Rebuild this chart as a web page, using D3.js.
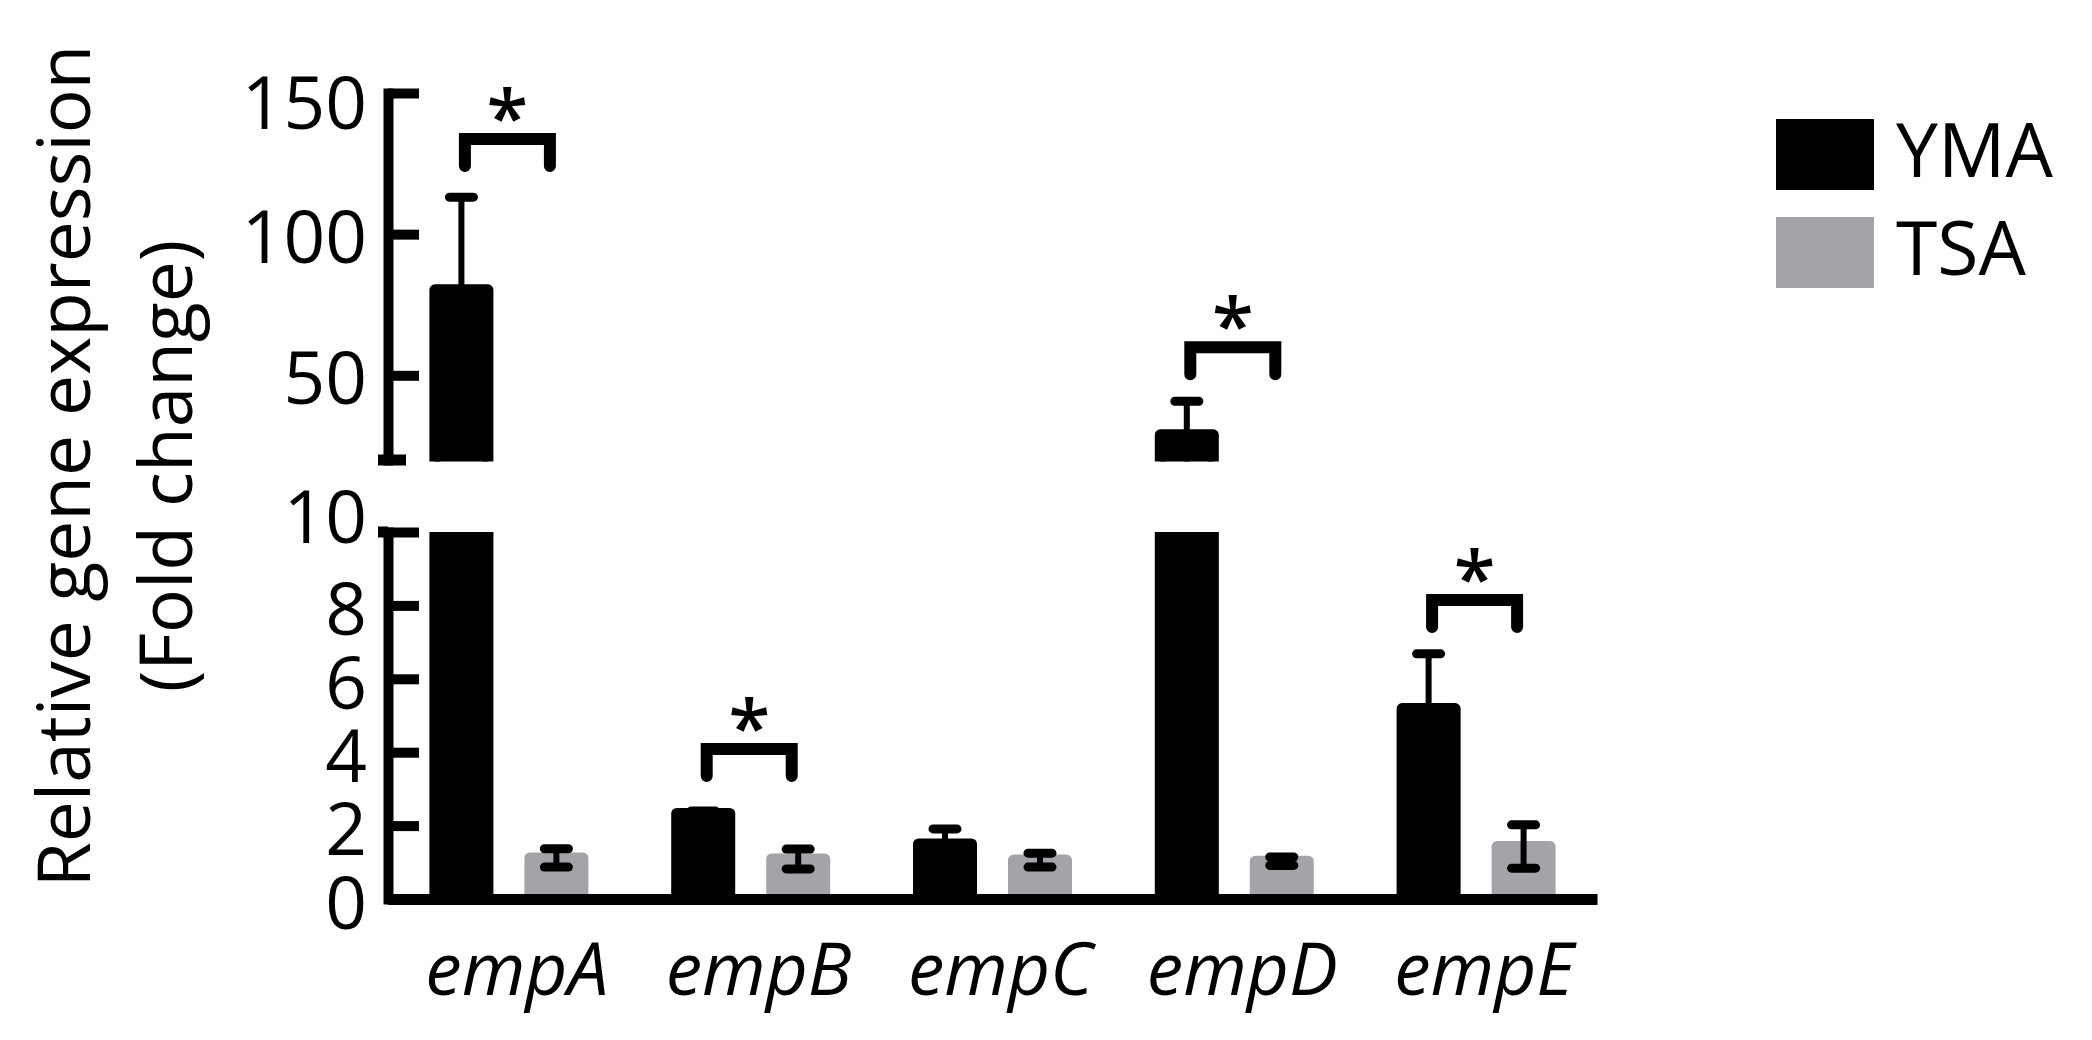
<!DOCTYPE html>
<html>
<head>
<meta charset="utf-8">
<script src="https://cdn.jsdelivr.net/npm/d3@7"></script>
<style>
  html, body { margin: 0; padding: 0; background: #fff; }
  svg { display: block; }
  text { font-family: "Open Sans", "Noto Sans", sans-serif; fill: #000; }
</style>
</head>
<body>
<svg id="chart" width="2092" height="1040"></svg>
<script>
// ---------------- data ----------------
const genes = ["empA", "empB", "empC", "empD", "empE"];
const series = ["YMA", "TSA"];
const ymaMean = [80.3, 2.33, 1.50, 28.9, 5.19];
const ymaErr  = [32.8, 0.07, 0.41, 11.9, 1.49];
const tsaMean = [1.12, 1.09, 1.06, 1.03, 1.43];
const tsaErr  = [0.25, 0.27, 0.19, 0.115, 0.59];
const sigLevel = [133.7, 4.09, null, 59.9, 8.15];   // bracket heights (data units)
const sigLabel = ["*", "*", null, "*", "*"];
const upperTicks = [50, 100, 150];
const lowerTicks = [0, 2, 4, 6, 8, 10];
const upperDomain = [20, 150];
const lowerDomain = [0, 10];
const colors = ["#000000", "#a4a4a8"];
const titleLines = ["Relative gene expression", "(Fold change)"];

// ---------------- layout ----------------
const svg = d3.select("#chart");
const axisX = 388;
const x = d3.scaleBand().domain(genes).range([axisX, 1597]).paddingInner(0).paddingOuter(0);
const xs = d3.scaleBand().domain(series).range([0, x.bandwidth()]).paddingInner(0.326).paddingOuter(0.436);
const yU = d3.scaleLinear().domain(upperDomain).range([460, 93]);
const yL = d3.scaleLinear().domain(lowerDomain).range([899, 532]);
const color = d3.scaleOrdinal().domain(series).range(colors);

const data = genes.flatMap((g, i) => [
  { gene: g, s: "YMA", v: ymaMean[i], e: ymaErr[i] },
  { gene: g, s: "TSA", v: tsaMean[i], e: tsaErr[i] }
]);
const cx = d => x(d.gene) + xs(d.s) + xs.bandwidth() / 2;
const barStroke = 11;
const barHalf = xs.bandwidth() / 2 - barStroke / 2;

// clip paths
const defs = svg.append("defs");
defs.append("clipPath").attr("id", "clipU").append("rect")
  .attr("x", 0).attr("y", 0).attr("width", 2092).attr("height", yU(upperDomain[0]) + 1.5);
defs.append("clipPath").attr("id", "clipL").append("rect")
  .attr("x", 0).attr("y", yL(lowerDomain[1])).attr("width", 2092)
  .attr("height", yL(0) - yL(lowerDomain[1]) + 6);

function drawSegment(y, clipId, dom) {
  const g = svg.append("g").attr("clip-path", `url(#${clipId})`);
  const shown = data.filter(d => d.v > dom[0]);
  g.selectAll("rect.bar").data(shown).join("rect")
    .attr("class", "bar")
    .attr("x", d => cx(d) - barHalf)
    .attr("width", barHalf * 2)
    .attr("y", d => y(Math.min(d.v, dom[1] + 5)))
    .attr("height", d => y(dom[0]) + 20 - y(Math.min(d.v, dom[1] + 5)))
    .attr("fill", d => color(d.s))
    .attr("stroke", d => color(d.s))
    .attr("stroke-width", barStroke)
    .attr("stroke-linejoin", "round");
  const eb = shown.filter(d => d.v + d.e <= dom[1] + 0.0001 && d.v + d.e > dom[0]);
  const eg = g.selectAll("g.err").data(eb).join("g").attr("class", "err");
  eg.append("line")
    .attr("x1", cx).attr("x2", cx)
    .attr("y1", d => y(d.v - d.e)).attr("y2", d => y(d.v + d.e))
    .attr("stroke", "#000").attr("stroke-width", 6);
  [1, -1].forEach(sign => {
    eg.append("line")
      .attr("x1", d => cx(d) - 12).attr("x2", d => cx(d) + 12)
      .attr("y1", d => y(d.v + sign * d.e)).attr("y2", d => y(d.v + sign * d.e))
      .attr("stroke", "#000").attr("stroke-width", 9).attr("stroke-linecap", "round");
  });
}
drawSegment(yU, "clipU", upperDomain);
drawSegment(yL, "clipL", lowerDomain);

// ---------------- axes ----------------
function yAxis(y, ticks, labelOffset) {
  const g = svg.append("g").attr("transform", `translate(${axisX},0)`)
    .call(d3.axisLeft(y).tickValues(ticks).tickSizeInner(-31).tickSizeOuter(0).tickPadding(21));
  g.select(".domain").attr("stroke", "#000").attr("stroke-width", 10).attr("stroke-linecap", "square");
  g.selectAll(".tick line").attr("stroke", "#000").attr("stroke-width", 10);
  g.selectAll(".tick text")
    .style("font-family", '"Open Sans", sans-serif')
    .attr("font-size", 73).attr("fill", "#000")
    .attr("dy", d => (0.32 + labelOffset(d) / 73) + "em");
  return g;
}
yAxis(yU, upperTicks, d => (d === upperDomain[1] ? 12 : 5));
yAxis(yL, lowerTicks, d => (d === lowerDomain[1] ? -13 : 6));

// segment end caps
svg.append("line")
  .attr("x1", axisX - 10).attr("x2", axisX + 18)
  .attr("y1", yU(upperDomain[0])).attr("y2", yU(upperDomain[0]))
  .attr("stroke", "#000").attr("stroke-width", 11);
svg.append("line")
  .attr("x1", axisX - 10).attr("x2", axisX)
  .attr("y1", yL(lowerDomain[1])).attr("y2", yL(lowerDomain[1]))
  .attr("stroke", "#000").attr("stroke-width", 11);

// x axis
const xg = svg.append("g").attr("transform", `translate(0,${yL(0)})`)
  .call(d3.axisBottom(x).tickSize(0).tickSizeOuter(0));
xg.select(".domain").attr("stroke", "#000").attr("stroke-width", 11);
xg.selectAll(".tick text")
  .style("font-family", '"Open Sans", sans-serif')
  .attr("font-size", 73).attr("font-style", "italic").attr("fill", "#000")
  .attr("y", 96).attr("dy", 0).attr("dx", 8);

// ---------------- significance brackets ----------------
const sig = genes.map((g, i) => ({ gene: g, lvl: sigLevel[i], lab: sigLabel[i] })).filter(d => d.lvl != null);
const ySig = v => (v > lowerDomain[1] ? yU(v) : yL(v));
const bL = d => x(d.gene) + x.bandwidth() / 2 - 44;
const bR = d => x(d.gene) + x.bandwidth() / 2 + 41;
const legLen = 27;
svg.selectAll("path.sig").data(sig).join("path")
  .attr("class", "sig")
  .attr("d", d => {
    const yb = ySig(d.lvl);
    return `M${bL(d)},${yb + legLen}V${yb}H${bR(d)}V${yb + legLen}`;
  })
  .attr("fill", "none").attr("stroke", "#000").attr("stroke-width", 12)
  .attr("stroke-linecap", "round").attr("stroke-linejoin", "miter");
svg.selectAll("text.star").data(sig).join("text")
  .attr("class", "star")
  .attr("x", d => (bL(d) + bR(d)) / 2)
  .attr("y", d => ySig(d.lvl) + 5)
  .attr("text-anchor", "middle")
  .attr("font-size", 76)
  .attr("font-weight", 600)
  .text(d => d.lab);

// ---------------- y title ----------------
const tcy = 466;
svg.append("text")
  .attr("transform", `translate(90,${tcy}) rotate(-90)`)
  .attr("text-anchor", "middle").attr("font-size", 73)
  .text(titleLines[0]);
svg.append("text")
  .attr("transform", `translate(192,${tcy}) rotate(-90)`)
  .attr("text-anchor", "middle").attr("font-size", 73)
  .text(titleLines[1]);

// ---------------- legend ----------------
const lg = svg.append("g").attr("transform", "translate(1776,119)");
const li = lg.selectAll("g").data(series).join("g")
  .attr("transform", (d, i) => `translate(0,${i * 98})`);
li.append("rect").attr("width", 98).attr("height", 71).attr("fill", d => color(d));
li.append("text").attr("x", 120).attr("y", 58).attr("font-size", 75).text(d => d);
</script>
</body>
</html>
